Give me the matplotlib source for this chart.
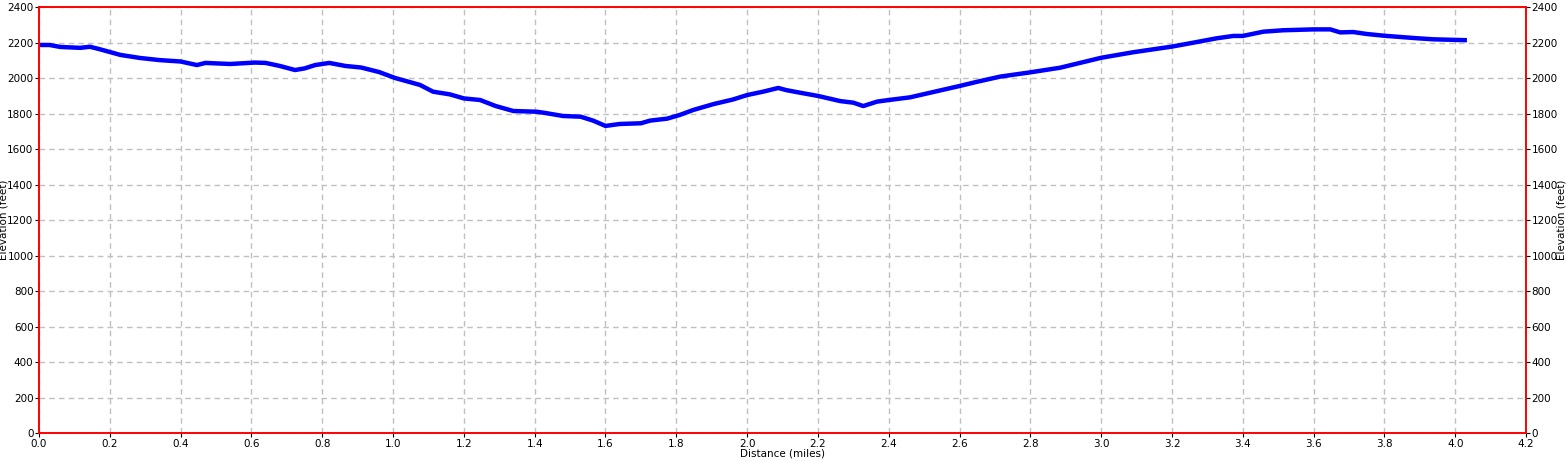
import numpy as np
import matplotlib.pyplot as plt

# elevation profile
distance = [0.0, 0.03, 0.06, 0.116, 0.144, 0.17, 0.23, 0.285, 0.34, 0.40, 0.446, 0.47,
            0.54, 0.61, 0.64, 0.68, 0.723, 0.75, 0.78, 0.82, 0.865, 0.91, 0.96, 1.006,
            1.076, 1.113, 1.16, 1.20, 1.246, 1.29, 1.34, 1.406, 1.43, 1.48, 1.53, 1.565,
            1.60, 1.64, 1.70, 1.726, 1.774, 1.81, 1.848, 1.905, 1.96, 2.0, 2.045, 2.088,
            2.11, 2.15, 2.2, 2.263, 2.30, 2.328, 2.367, 2.40, 2.46, 2.508, 2.6, 2.65,
            2.715, 2.8, 2.884, 3.0, 3.09, 3.2, 3.26, 3.327, 3.373, 3.40, 3.458, 3.514,
            3.6, 3.647, 3.675, 3.712, 3.75, 3.8, 3.892, 3.938, 4.033]
elevation = [2186, 2186, 2175, 2170, 2176, 2163, 2130, 2113, 2101, 2093, 2073, 2085,
             2079, 2087, 2085, 2068, 2045, 2054, 2073, 2085, 2068, 2059, 2034, 2000,
             1961, 1923, 1908, 1885, 1876, 1842, 1814, 1810, 1803, 1786, 1782, 1760,
             1730, 1741, 1745, 1760, 1771, 1792, 1820, 1853, 1879, 1904, 1923, 1944,
             1932, 1917, 1899, 1870, 1861, 1842, 1867, 1876, 1891, 1913, 1955, 1979,
             2008, 2032, 2058, 2114, 2145, 2177, 2199, 2224, 2237, 2237, 2261, 2269,
             2274, 2274, 2257, 2259, 2248, 2238, 2224, 2218, 2213]

x_ticks = np.round(np.arange(0, 4.21, 0.2), 1)
y_ticks = np.arange(0, 2401, 200)

plt.rcParams['font.family'] = ['DejaVu Sans']
plt.rcParams['font.size'] = 7.5

fig = plt.figure(figsize=(15.66, 4.61), dpi=100)
ax = fig.add_axes([0.0249, 0.0607, 0.9496, 0.9241])

ax.plot(distance, elevation, color='#0000ff', linewidth=3.2, solid_capstyle='butt')

ax.set_xlim(0, 4.2)
ax.set_ylim(0, 2400)
ax.set_xticks(x_ticks)
ax.set_xticklabels(['%.1f' % t for t in x_ticks])
ax.set_yticks(y_ticks)
ax.grid(True, color='#c0c0c0', linestyle=(0, (4, 3)), linewidth=1)
ax.set_axisbelow(True)
for s in ax.spines.values():
    s.set_color('red')
    s.set_linewidth(1.2)
ax.tick_params(direction='out', length=3, pad=1, colors='black')
ax.set_xlabel('Distance (miles)', labelpad=0)
ax.set_ylabel('Elevation (feet)')
ax.yaxis.set_label_coords(-0.0205, 0.5)

ax2 = ax.twinx()
ax2.set_ylim(0, 2400)
ax2.set_yticks(y_ticks)
for s in ax2.spines.values():
    s.set_color('red')
    s.set_linewidth(1.2)
ax2.tick_params(direction='out', length=3, pad=1, colors='black')
ax2.set_ylabel('Elevation (feet)')
ax2.yaxis.set_label_coords(1.0205, 0.5)

fig.savefig('out.png', dpi=100)
